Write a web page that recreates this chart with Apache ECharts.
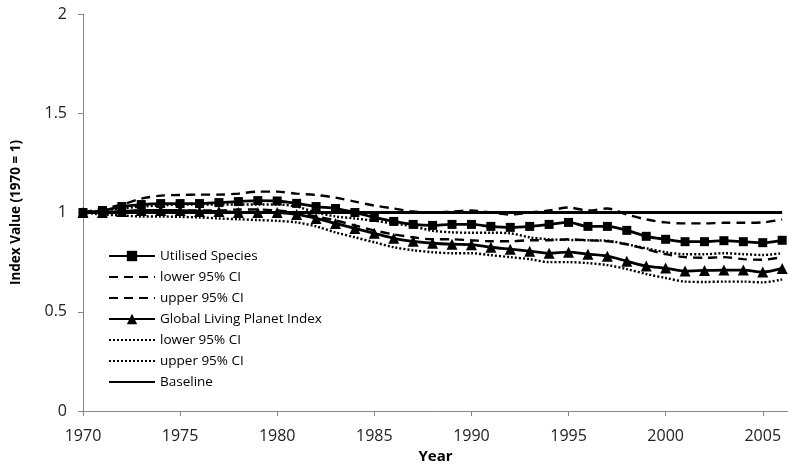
<!DOCTYPE html>
<html lang="en">
<head>
<meta charset="UTF-8">
<title>Index Value</title>
<script src="https://cdn.jsdelivr.net/npm/echarts@6/dist/echarts.min.js"></script>
<style>
  html, body { margin: 0; padding: 0; background: #fff; }
  #main { width: 788px; height: 472px; }
</style>
</head>
<body>
<div id="main"></div>
<script>
// years on the x axis
var years = [1970, 1971, 1972, 1973, 1974, 1975, 1976, 1977, 1978, 1979,
             1980, 1981, 1982, 1983, 1984, 1985, 1986, 1987, 1988, 1989,
             1990, 1991, 1992, 1993, 1994, 1995, 1996, 1997, 1998, 1999,
             2000, 2001, 2002, 2003, 2004, 2005, 2006];

// Utilised Species index + CI
var utilised = [1.00, 1.01, 1.03, 1.04, 1.045, 1.045, 1.045, 1.05, 1.055, 1.06,
                1.058, 1.046, 1.03, 1.02, 1.00, 0.975, 0.955, 0.94, 0.935, 0.94,
                0.94, 0.93, 0.925, 0.93, 0.94, 0.95, 0.93, 0.93, 0.91, 0.88,
                0.865, 0.853, 0.853, 0.858, 0.853, 0.848, 0.86];
var utilLower = [1.00, 1.00, 1.005, 1.01, 1.01, 1.01, 1.01, 1.01, 1.015, 1.015,
                 1.01, 1.00, 0.98, 0.96, 0.935, 0.91, 0.89, 0.875, 0.865, 0.865,
                 0.86, 0.855, 0.855, 0.86, 0.86, 0.865, 0.86, 0.855, 0.84, 0.815,
                 0.79, 0.775, 0.772, 0.775, 0.765, 0.762, 0.775];
var utilUpper = [1.00, 1.02, 1.04, 1.07, 1.085, 1.088, 1.09, 1.09, 1.095, 1.105,
                 1.105, 1.095, 1.088, 1.075, 1.055, 1.035, 1.02, 1.005, 1.00, 1.005,
                 1.01, 1.00, 0.99, 1.00, 1.01, 1.025, 1.01, 1.02, 0.99, 0.965,
                 0.95, 0.945, 0.945, 0.948, 0.948, 0.95, 0.965];

// Global Living Planet Index + CI
var lpi = [1.00, 1.00, 1.005, 1.01, 1.01, 1.01, 1.005, 1.005, 1.00, 1.00,
           1.00, 0.99, 0.97, 0.945, 0.92, 0.895, 0.87, 0.855, 0.845, 0.84,
           0.838, 0.825, 0.815, 0.805, 0.795, 0.80, 0.79, 0.78, 0.755, 0.73,
           0.72, 0.705, 0.708, 0.71, 0.71, 0.70, 0.718];
var lpiLower = [1.00, 0.99, 0.985, 0.98, 0.98, 0.978, 0.975, 0.97, 0.966, 0.962,
                0.958, 0.95, 0.93, 0.90, 0.875, 0.85, 0.825, 0.81, 0.80, 0.795,
                0.795, 0.785, 0.775, 0.765, 0.75, 0.75, 0.745, 0.735, 0.715, 0.69,
                0.67, 0.652, 0.65, 0.652, 0.652, 0.648, 0.663];
var lpiUpper = [1.00, 1.01, 1.02, 1.03, 1.035, 1.04, 1.04, 1.04, 1.04, 1.04,
                1.04, 1.03, 1.00, 0.98, 0.97, 0.958, 0.945, 0.93, 0.908, 0.90,
                0.898, 0.898, 0.895, 0.875, 0.865, 0.862, 0.86, 0.858, 0.84, 0.82,
                0.80, 0.79, 0.79, 0.795, 0.79, 0.786, 0.795];

var baseline = [1, 1, 1, 1, 1, 1, 1, 1, 1, 1, 1, 1, 1, 1, 1, 1, 1, 1, 1, 1,
                1, 1, 1, 1, 1, 1, 1, 1, 1, 1, 1, 1, 1, 1, 1, 1, 1];

var yTicks = [0, 0.5, 1, 1.5, 2];

function pairs(vals) {
    return years.map(function (y, i) { return [y, vals[i]]; });
}

var font = '"Open Sans", "Noto Sans", sans-serif';
var myChart = echarts.init(document.getElementById('main'));

function ciLine(name, vals, dash) {
    return {
        name: name,
        type: 'line',
        data: pairs(vals),
        smooth: 0.3,
        symbol: 'none',
        lineStyle: { color: '#000', width: 2.4, type: dash },
        itemStyle: { color: '#000' }
    };
}

// legend entries without a marker: hide the icon symbol, keep the line
function plainItem(name) {
    return { name: name, itemStyle: { opacity: 0 } };
}

var option = {
    animation: false,
    grid: { left: 83, right: 0, top: 14, bottom: 61 },
    legend: {
        orient: 'vertical',
        left: 103,
        top: 244,
        itemWidth: 46,
        itemHeight: 13,
        itemGap: 7,
        textStyle: { fontFamily: font, fontSize: 13.5, color: '#000' },
        data: ['Utilised Species', plainItem('lower 95% CI'), plainItem('upper 95% CI'),
               'Global Living Planet Index', plainItem('lower 95% CI '), plainItem('upper 95% CI '),
               plainItem('Baseline')]
    },
    xAxis: {
        type: 'value',
        min: 1970,
        max: 2006.3,
        interval: 5,
        name: 'Year',
        nameLocation: 'middle',
        nameGap: 36,
        nameTextStyle: { fontFamily: font, fontSize: 15, fontWeight: 'bold', color: '#000' },
        splitLine: { show: false },
        axisLine: { lineStyle: { color: '#868686', width: 1 } },
        axisTick: { length: 5, lineStyle: { color: '#868686' } },
        axisLabel: {
            fontFamily: font, fontSize: 16, color: '#222', margin: 17, showMaxLabel: false,
            formatter: function (v) { return String(v); }
        }
    },
    yAxis: {
        type: 'value',
        min: yTicks[0],
        max: yTicks[yTicks.length - 1],
        interval: 0.5,
        name: 'Index Value (1970 = 1)',
        nameLocation: 'middle',
        nameGap: 60,
        nameTextStyle: { fontFamily: font, fontSize: 13.5, fontWeight: 'bold', color: '#000' },
        splitLine: { show: false },
        axisLine: { show: true, lineStyle: { color: '#868686', width: 1 } },
        axisTick: { show: true, length: 5, lineStyle: { color: '#868686' } },
        axisLabel: { fontFamily: font, fontSize: 16, color: '#222', margin: 16 }
    },
    series: [
        {
            name: 'Utilised Species',
            type: 'line',
            data: pairs(utilised),
            smooth: 0.3,
            symbol: 'rect',
            symbolSize: 9,
            lineStyle: { color: '#000', width: 2.8 },
            itemStyle: { color: '#000' }
        },
        ciLine('lower 95% CI', utilLower, [9, 6]),
        ciLine('upper 95% CI', utilUpper, [9, 6]),
        {
            name: 'Global Living Planet Index',
            type: 'line',
            data: pairs(lpi),
            smooth: 0.3,
            symbol: 'triangle',
            symbolSize: 11,
            lineStyle: { color: '#000', width: 2.8 },
            itemStyle: { color: '#000' }
        },
        ciLine('lower 95% CI ', lpiLower, [2, 2]),
        ciLine('upper 95% CI ', lpiUpper, [2, 2]),
        {
            name: 'Baseline',
            type: 'line',
            data: pairs(baseline),
            symbol: 'none',
            lineStyle: { color: '#000', width: 2.8 },
            itemStyle: { color: '#000' }
        }
    ]
};

myChart.setOption(option);
</script>
</body>
</html>
